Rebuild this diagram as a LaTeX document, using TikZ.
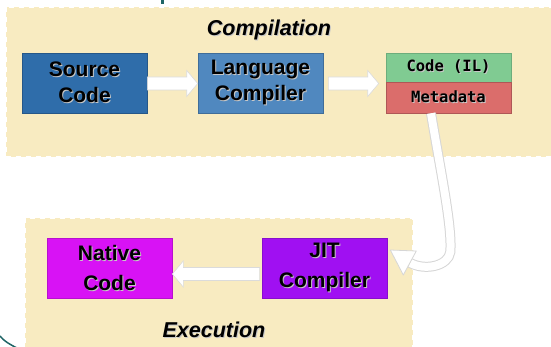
\documentclass[tikz,border=0pt]{standalone}
\usepackage{fontspec}
\setmainfont{Liberation Sans}
\setmonofont{DejaVu Sans Mono}
\usetikzlibrary{calc}

\definecolor{panel}{HTML}{F8EBC1}
\definecolor{srcblue}{HTML}{2F6DAA}
\definecolor{langblue}{HTML}{5088BF}
\definecolor{ilgreen}{HTML}{80CB92}
\definecolor{metared}{HTML}{DB6D6B}
\definecolor{nativemag}{HTML}{D812F5}
\definecolor{jitpurple}{HTML}{A010F2}
\definecolor{edgeteal}{HTML}{1F6566}

% black lettering with a soft light drop shadow
\newcommand\emb[1]{\leavevmode\rlap{\hspace{1pt}\raisebox{-1pt}{\color{black!22}#1}}#1}

% white block arrows between two points (shaft 13pt, head 26pt x 11pt)
\newcommand\flowright[2]{%
  \draw[flowline] ($#1+(0,-6.5)$) -- ($#2+(-11,-6.5)$) -- ($#2+(-11,-13)$)
    -- #2 -- ($#2+(-11,13)$) -- ($#2+(-11,6.5)$) -- ($#1+(0,6.5)$) -- cycle;}
\newcommand\flowleft[2]{%
  \draw[flowline] ($#1+(0,-6.5)$) -- ($#2+(11,-6.5)$) -- ($#2+(11,-13)$)
    -- #2 -- ($#2+(11,13)$) -- ($#2+(11,6.5)$) -- ($#1+(0,6.5)$) -- cycle;}

\tikzset{
  stagebox/.style={minimum width=125pt, minimum height=60pt, inner sep=0pt,
    align=center, line width=0.6pt,
    font=\fontsize{21}{26}\selectfont\bfseries},
  ilbox/.style={minimum width=125pt, inner sep=0pt, line width=0.6pt,
    font=\fontsize{15.5}{18}\selectfont\ttfamily\bfseries},
  flowline/.style={fill=white, draw=black!14, line width=0.6pt, line join=miter},
  panelbox/.style={fill=panel, draw=white, line width=1.3pt,
    dash pattern=on 5pt off 5pt},
  title/.style={font=\fontsize{21.5}{24}\selectfont\bfseries\itshape},
}

\begin{document}
\begin{tikzpicture}[x=1pt, y=-1pt]
\useasboundingbox (0,0) rectangle (551,347);
\clip (0,0) rectangle (551,347);
\fill[white] (0,0) rectangle (551,347);

% stage panels
\path[panelbox] (6,7) rectangle (565,157);
\path[panelbox] (25,218) rectangle (413,365);

% small teal marks at the edges
\draw[edgeteal, line width=3pt] (162,0) -- (162,4.5);
\draw[edgeteal, line width=1.5pt] (0,336) .. controls (4,341) and (9,344) .. (17,348);

% compilation stage
\node[title] (comptitle) at (269,30) {\emb{Compilation}};
\node[stagebox, fill=srcblue, draw=srcblue!80!black] (src) at (84.5,83)
  {\emb{Source}\\\emb{Code}};
\node[stagebox, fill=langblue, draw=langblue!80!black] (lang) at (260.5,83)
  {\emb{Language}\\\emb{Compiler}};
\node[ilbox, fill=ilgreen, draw=ilgreen!85!black, minimum height=29pt] (il) at (448.5,67.5)
  {\emb{Code (IL)}};
\node[ilbox, fill=metared, draw=metared!80!black, minimum height=31pt] (meta) at (448.5,97.5)
  {\emb{Metadata}};

\flowright{($(src.east)+(0,0.5)$)}{($(lang.west)+(0,0.5)$)}
\flowright{($(lang.east)+(5,0.5)$)}{($(il.west|-lang.west)+(-7,0.5)$)}

% execution stage
\node[stagebox, fill=nativemag, draw=nativemag!85!black,
  font=\fontsize{21}{30}\selectfont\bfseries] (native) at (109.5,268)
  {\emb{Native}\\\emb{Code}};
\node[stagebox, fill=jitpurple, draw=jitpurple!85!black,
  font=\fontsize{21}{30}\selectfont\bfseries] (jit) at (324.5,268)
  {\emb{JIT}\\\emb{Compiler}};
\node[title] (exectitle) at (214,330) {\emb{Execution}};

\flowleft{($(jit.west)+(-2,6)$)}{($(native.east)+(0,6)$)}

% curved hand-off from the metadata down to the JIT compiler
\coordinate (cstart) at ($(meta.south)+(-17.5,0)$);
\coordinate (cc1) at ($(cstart)+(10,60)$);
\coordinate (cbend) at ($(jit.east)+(63,-16)$);
\coordinate (cc2) at ($(cbend)+(2,-25)$);
\coordinate (cc3) at ($(cbend)+(-2,14)$);
\coordinate (cend) at ($(jit.east)+(23,-5)$);
\coordinate (cc4) at ($(cend)+(15,8)$);
\coordinate (htip) at ($(jit.east)+(3,-18)$);
\coordinate (hb1) at ($(jit.east)+(29,-17)$);
\coordinate (hb2) at ($(jit.east)+(16,7)$);
\draw[black!16, line width=10pt] (cstart) .. controls (cc1) and (cc2) .. (cbend)
  .. controls (cc3) and (cc4) .. (cend);
\draw[white, line width=8pt] (cstart) .. controls (cc1) and (cc2) .. (cbend)
  .. controls (cc3) and (cc4) .. (cend);
\draw[fill=white, draw=black!16, line width=0.8pt, line join=round]
  (htip) -- (hb1) -- (hb2) -- cycle;
\end{tikzpicture}
\end{document}
